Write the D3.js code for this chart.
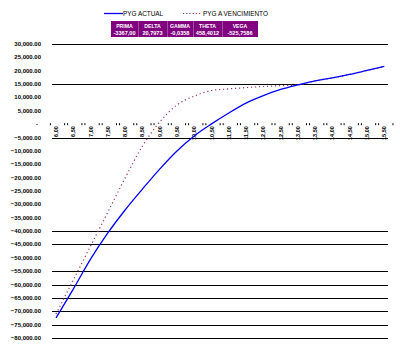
<!DOCTYPE html>
<html><head><meta charset="utf-8">
<script src="https://cdn.jsdelivr.net/npm/d3@7"></script>
<style>html,body{margin:0;padding:0;background:#fff;}svg{display:block;}</style>
</head><body>
<svg id="c" width="400" height="351"></svg>
<script>
const categories = ["6,00","6,50","7,00","7,50","8,00","8,50","9,00","9,50","10,00","10,50","11,00","11,50","12,00","12,50","13,00","13,50","14,00","14,50","15,00","15,50"];
const pygActual = [-72500,-61700,-50500,-40700,-32100,-24300,-16800,-10000,-4400,100,4200,7900,10700,13000,14700,16200,17300,18600,20100,21600];
const pygVencimiento = [-71000,-58300,-45600,-32900,-20150,-8200,800,7200,10500,12600,13200,13700,14100,14400,14700,16200,17300,18600,20100,21600];
const yTicks = [30000,25000,20000,15000,10000,5000,0,-5000,-10000,-15000,-20000,-25000,-30000,-35000,-40000,-45000,-50000,-55000,-60000,-65000,-70000,-75000,-80000];
const gridValues = [30000,15000,-5000,-40000,-45000,-55000,-60000,-65000,-70000,-75000,-80000];
const greekNames = ["PRIMA","DELTA","GAMMA","THETA","VEGA"];
const greekValues = ["-3367,00","20,7973","-0,0358","458,4012","-525,7586"];
const seriesNames = ["PYG ACTUAL","PYG A VENCIMIENTO"];

const svg = d3.select("#c");
const font = "'Liberation Sans', Arial, sans-serif";
const y = d3.scaleLinear().domain([-80000,30000]).range([338,44]);
const x = d3.scalePoint().domain(categories).range([56,384.3]);

// gridlines
svg.append("g").selectAll("line").data(gridValues).join("line")
  .attr("x1",52).attr("x2",388)
  .attr("y1",d=>Math.round(y(d))+0.5).attr("y2",d=>Math.round(y(d))+0.5)
  .attr("stroke","#000").attr("stroke-width",1.2);

// y labels
const fmt = d => d===0 ? "-" : d3.format(",.2f")(d);
svg.append("g").selectAll("text").data(yTicks).join("text")
  .attr("x",d=>d===0?38:41).attr("y",d=>y(d)+2)
  .attr("text-anchor","end").attr("font-family",font).attr("font-weight","bold")
  .attr("font-size",6).attr("fill","#000").text(fmt);

// category axis ticks (at zero)
const step = x.step();
svg.append("g").selectAll("line").data(categories).join("line")
  .attr("x1",d=>x(d)+step/2).attr("x2",d=>x(d)+step/2)
  .attr("y1",y(0)-1).attr("y2",y(0)+1)
  .attr("stroke","#000").attr("stroke-width",1);
svg.append("g").selectAll("line").data(categories).join("line")
  .attr("x1",d=>x(d)-step/2+3).attr("x2",d=>x(d)-step/2+3)
  .attr("y1",y(0)-1).attr("y2",y(0)+1)
  .attr("stroke","#000").attr("stroke-width",1);

// category labels, rotated
svg.append("g").selectAll("text").data(categories).join("text")
  .attr("transform",d=>`translate(${x(d)+2},${y(0)+2}) rotate(-90)`)
  .attr("text-anchor","end").attr("font-family",font).attr("font-weight","bold")
  .attr("font-size",5.5).attr("fill","#000").text(d=>d);

// lines
const line = d3.line().x((d,i)=>x(categories[i])).y(d=>y(d)).curve(d3.curveMonotoneX);
svg.append("path").datum(pygVencimiento).attr("d",line)
  .attr("fill","none").attr("stroke","#993366").attr("stroke-width",1.2)
  .attr("stroke-dasharray","1.2,2.8");
svg.append("path").datum(pygActual).attr("d",line)
  .attr("fill","none").attr("stroke","#0000ff").attr("stroke-width",1.3);

// legend
const lg = svg.append("g").attr("font-family",font).attr("font-size",6.4).attr("fill","#000");
lg.append("line").attr("x1",104).attr("x2",123).attr("y1",13.5).attr("y2",13.5).attr("stroke","#0000ff").attr("stroke-width",1.3);
lg.append("text").attr("x",123).attr("y",15.8).text(seriesNames[0]);
lg.append("line").attr("x1",183).attr("x2",202).attr("y1",13.5).attr("y2",13.5).attr("stroke","#993366").attr("stroke-width",1.2).attr("stroke-dasharray","1.2,2");
lg.append("text").attr("x",203).attr("y",15.8).text(seriesNames[1]);

// greeks table
const colEdges = [111,138,167,193,222,258];
const tg = svg.append("g");
tg.append("rect").attr("x",111).attr("y",21).attr("width",147).attr("height",16).attr("fill","#800080");
tg.selectAll("line.sep").data(colEdges.slice(1,-1)).join("line")
  .attr("x1",d=>d+0.5).attr("x2",d=>d+0.5).attr("y1",21).attr("y2",37)
  .attr("stroke","#b080b0").attr("stroke-width",0.6);
tg.selectAll("text.h").data(greekNames).join("text")
  .attr("x",(d,i)=>(colEdges[i]+colEdges[i+1])/2).attr("y",27.5)
  .attr("text-anchor","middle").attr("font-family",font).attr("font-weight","bold")
  .attr("font-size",5.2).attr("fill","#fff").text(d=>d);
tg.selectAll("text.v").data(greekValues).join("text")
  .attr("x",(d,i)=>(colEdges[i]+colEdges[i+1])/2).attr("y",34.5)
  .attr("text-anchor","middle").attr("font-family",font).attr("font-weight","bold")
  .attr("font-size",5.6).attr("fill","#fff").text(d=>d);
</script>
</body></html>
